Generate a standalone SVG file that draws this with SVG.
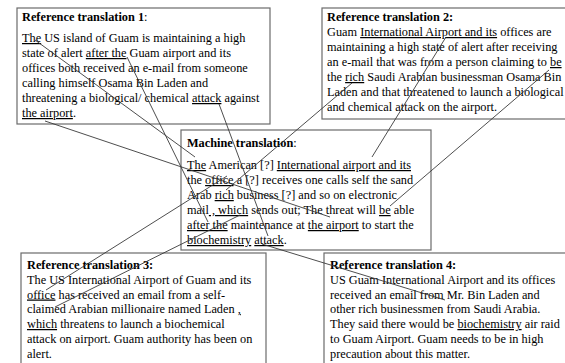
<svg xmlns="http://www.w3.org/2000/svg" width="565" height="363" viewBox="0 0 565 363">
<style>
.box{fill:#fff;stroke:#6b6b6b;stroke-width:1.2}
text{font-family:"Liberation Serif","Times New Roman",serif;font-size:12.3px;fill:#000}
.b{font-weight:bold}
.u{text-decoration:underline}
#connectors line{stroke:#3a3a3a;stroke-width:0.9;fill:none}
</style>
<rect width="565" height="363" fill="#fff"/>
<g id="ref1">
<rect class="box" x="17" y="8" width="253" height="116"/>
<text x="22" y="21"><tspan class="b">Reference translation 1</tspan>:</text>
<text x="22" y="42"><tspan class="u">The</tspan> US island of Guam is maintaining a high</text>
<text x="22" y="57">state of alert <tspan class="u">after the</tspan> Guam airport and its</text>
<text x="22" y="72">offices both received an e-mail from someone</text>
<text x="22" y="87">calling himself Osama Bin Laden and</text>
<text x="22" y="102">threatening a biological/ chemical <tspan class="u">attack</tspan> against</text>
<text x="22" y="117"><tspan class="u">the airport</tspan>.</text>
</g>
<g id="ref2">
<rect class="box" x="322" y="8" width="250" height="111"/>
<text x="327" y="21" class="b">Reference translation 2:</text>
<text x="327" y="36">Guam <tspan class="u">International Airport and its</tspan> offices are</text>
<text x="327" y="51">maintaining a high state of alert after receiving</text>
<text x="327" y="66">an e-mail that was from a person claiming to <tspan class="u">be</tspan></text>
<text x="327" y="81">the <tspan class="u">rich</tspan> Saudi Arabian businessman Osama Bin</text>
<text x="327" y="96">Laden and that threatened to launch a biological</text>
<text x="327" y="111">and chemical attack on the airport.</text>
</g>
<g id="mt">
<rect class="box" x="181" y="130" width="250" height="120"/>
<text x="187" y="147"><tspan class="b">Machine translation</tspan>:</text>
<text x="187" y="169"><tspan class="u">The</tspan> American [?] <tspan class="u">International airport and its</tspan></text>
<text x="187" y="184">the <tspan class="u">office</tspan> a [?] receives one calls self the sand</text>
<text x="187" y="199">Arab <tspan class="u">rich</tspan> business [?] and so on electronic</text>
<text x="187" y="214">mail<tspan class="u"> , which</tspan> sends out; The threat will <tspan class="u">be</tspan> able</text>
<text x="187" y="229"><tspan class="u">after the</tspan> maintenance at <tspan class="u">the airport</tspan> to start the</text>
<text x="187" y="244"><tspan class="u">biochemistry</tspan> <tspan class="u">attack</tspan>.</text>
</g>
<g id="ref3">
<rect class="box" x="21" y="253" width="245" height="120"/>
<text x="27" y="269" class="b">Reference translation 3:</text>
<text x="27" y="284">The US International Airport of Guam and its</text>
<text x="27" y="298.5"><tspan class="u">office</tspan> has received an email from a self-</text>
<text x="27" y="313">claimed Arabian millionaire named Laden <tspan class="u">,</tspan></text>
<text x="27" y="328"><tspan class="u">which</tspan> threatens to launch a biochemical</text>
<text x="27" y="343">attack on airport. Guam authority has been on</text>
<text x="27" y="358">alert.</text>
</g>
<g id="ref4">
<rect class="box" x="324" y="253" width="250" height="120"/>
<text x="330" y="269" class="b">Reference translation 4:</text>
<text x="330" y="284">US Guam International Airport and its offices</text>
<text x="330" y="298.5">received an email from Mr. Bin Laden and</text>
<text x="330" y="313">other rich businessmen from Saudi Arabia.</text>
<text x="330" y="328">They said there would be <tspan class="u">biochemistry</tspan> air raid</text>
<text x="330" y="343">to Guam Airport. Guam needs to be in high</text>
<text x="330" y="358">precaution about this matter.</text>
</g>
<g id="connectors">
<line x1="35" y1="40" x2="195" y2="157"/>
<line x1="127" y1="57" x2="208" y2="222"/>
<line x1="219" y1="104" x2="268" y2="236"/>
<line x1="45" y1="121" x2="330" y2="217"/>
<line x1="446" y1="37" x2="372" y2="157"/>
<line x1="352" y1="83" x2="226" y2="190"/>
<line x1="549" y1="70" x2="390" y2="206"/>
<line x1="46" y1="290" x2="227" y2="176"/>
<line x1="55" y1="307" x2="240" y2="215"/>
<line x1="262" y1="244" x2="445" y2="300"/>
</g>
</svg>
